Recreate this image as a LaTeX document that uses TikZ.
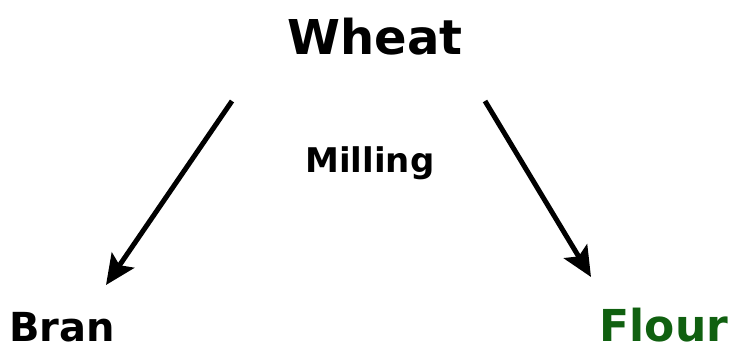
\documentclass[tikz,border=0pt]{standalone}
\usepackage{fontspec}
\setmainfont{DejaVu Sans}
\usetikzlibrary{arrows.meta}
\definecolor{flourgreen}{RGB}{16,96,16}
\begin{document}
\begin{tikzpicture}[x=1pt,y=-1pt,
  lbl/.style={font=\bfseries, inner sep=0pt, anchor=base},
  arr/.style={line width=5pt, -{Stealth[length=30pt,width=27pt,inset=6pt]}}]
\useasboundingbox (0,0) rectangle (736,351);
\node[lbl, font=\fontsize{48}{50}\selectfont\bfseries] (wheat) at (375,54) {Wheat};
\node[lbl, font=\fontsize{34}{36}\selectfont\bfseries] (mill) at (370,172) {Milling};
\node[lbl, font=\fontsize{40}{44}\selectfont\bfseries] (bran) at (62,341) {Bran};
\node[lbl, font=\fontsize{44}{48}\selectfont\bfseries, text=flourgreen] (flour) at (664,341) {Flour};
\coordinate (ls) at (232,101);
\coordinate (le) at (106,285);
\coordinate (rs) at (485,101);
\coordinate (re) at (591,277);
\draw[arr] (ls) -- (le);
\draw[arr] (rs) -- (re);
\end{tikzpicture}
\end{document}
